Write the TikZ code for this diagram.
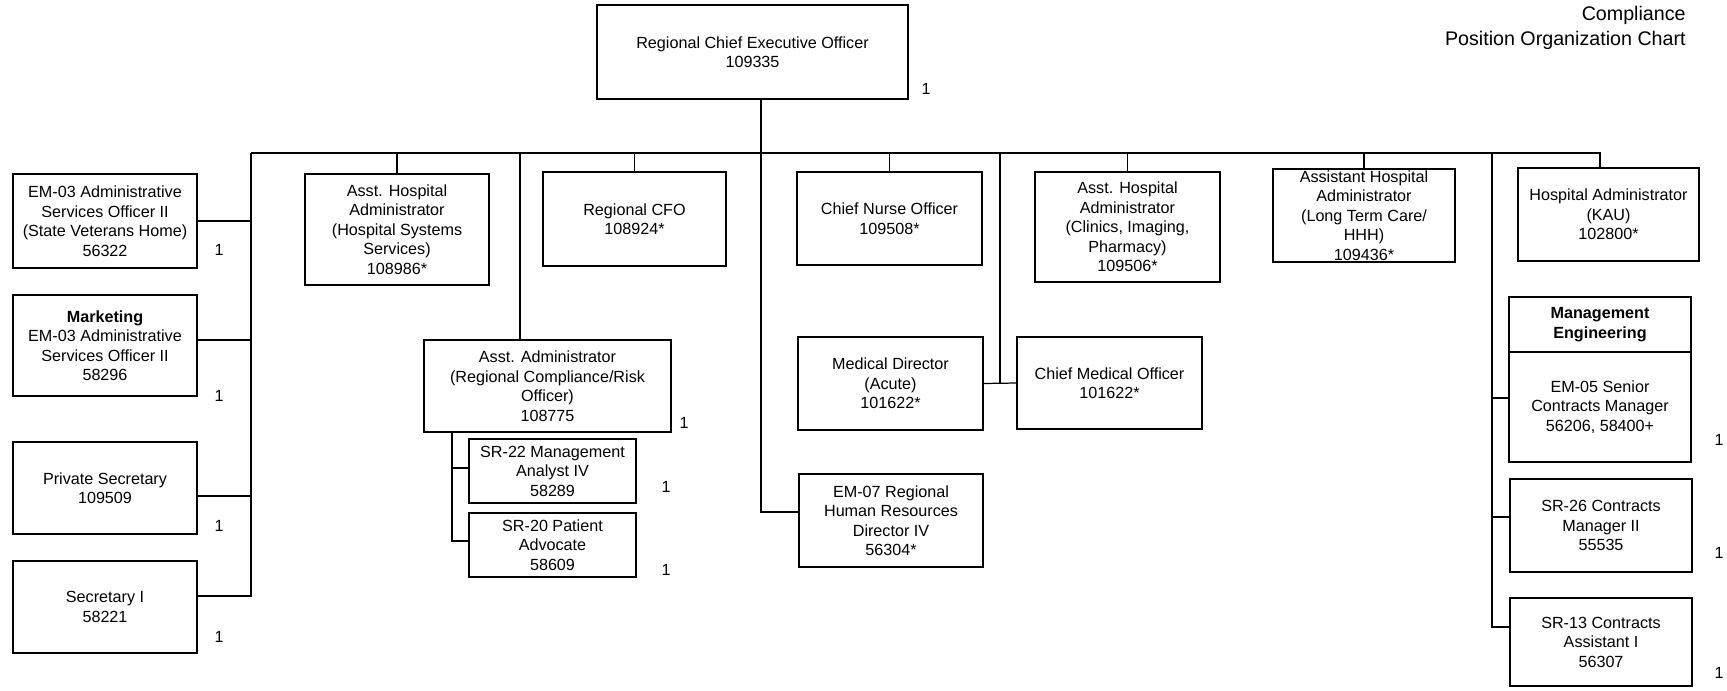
\documentclass[tikz,border=0pt]{standalone}
\usepackage{fontspec}
\setmainfont{Liberation Sans}
\usepackage{tikz}
\usetikzlibrary{positioning}

\begin{document}
\begin{tikzpicture}[
	x=0.02cm, y=-0.02cm,
	font=\fontsize{9.2}{11.1}\selectfont
]
\tikzset{
    posbox/.style = {rectangle, draw=black, line width=0.9pt, align=center, inner sep=0pt, outer sep=0pt, minimum width=3.68cm},
		headbox/.style = {posbox, font=\fontsize{9.2}{11.1}\selectfont\bfseries},
		countlabel/.style = {inner sep=0pt, draw=none},
		linkline/.style = {line width=0.7pt}
}
\useasboundingbox (0,0) rectangle (1727,690);

\node[align=right, anchor=east, inner sep=0pt, font=\fontsize{11.2}{14.2}\selectfont] (title) at (1686,27.5) {Compliance\\Position Organization Chart};

\node[posbox, minimum width=6.22cm, minimum height=1.88cm] (ceo) at (752.5,52) {Regional Chief Executive Officer\\109335};

\node[posbox, minimum height=1.88cm] (svh) at (105,221) {EM-03 Administrative\\Services Officer II\\(State Veterans Home)\\56322};
\node[posbox, minimum height=2.02cm] (mkt) at (105,345.5) {\textbf{Marketing}\\EM-03 Administrative\\Services Officer II\\58296};
\node[posbox, minimum height=1.84cm] (psec) at (105,488) {Private Secretary\\109509};
\node[posbox, minimum height=1.84cm] (sec1) at (105,607) {Secretary I\\58221};

\node[posbox, minimum height=2.22cm] (hss) at (397,229.5) {Asst. Hospital\\Administrator\\(Hospital Systems\\Services)\\108986*};
\node[posbox, minimum width=3.66cm, minimum height=1.88cm] (cfo) at (634.5,219) {Regional CFO\\108924*};
\node[posbox, minimum width=3.7cm, minimum height=1.86cm] (cno) at (889.5,218.5) {Chief Nurse Officer\\109508*};
\node[posbox, minimum width=3.7cm, minimum height=2.2cm] (clin) at (1127.5,227) {Asst. Hospital\\Administrator\\(Clinics, Imaging,\\Pharmacy)\\109506*};
\node[posbox, minimum width=3.64cm, minimum height=1.86cm] (ltc) at (1364,215.5) {Assistant Hospital\\Administrator\\(Long Term Care/\\HHH)\\109436*};
\node[posbox, minimum width=3.62cm, minimum height=1.86cm] (kau) at (1608.5,214.5) {Hospital Administrator\\(KAU)\\102800*};

\node[posbox, minimum width=4.94cm, minimum height=1.84cm] (aadm) at (547.5,386) {Asst. Administrator\\(Regional Compliance/Risk\\Officer)\\108775};
\node[posbox, minimum width=3.34cm, minimum height=1.28cm] (sr22) at (552.5,471) {SR-22 Management\\Analyst IV\\58289};
\node[posbox, minimum width=3.34cm, minimum height=1.28cm] (sr20) at (552.5,545) {SR-20 Patient\\Advocate\\58609};

\node[posbox, minimum width=3.7cm, minimum height=1.86cm] (md) at (890.5,383.5) {Medical Director\\(Acute)\\101622*};
\node[posbox, minimum width=3.7cm, minimum height=1.84cm] (cmo) at (1109.5,383) {Chief Medical Officer\\101622*};
\node[posbox, minimum height=1.86cm] (hr) at (891,520.5) {EM-07 Regional\\Human Resources\\Director IV\\56304*};

\node[headbox, minimum width=3.64cm, minimum height=1.1cm] (meng) at (1600,324.5) {Management\\Engineering};
\node[posbox, minimum width=3.64cm, minimum height=2.2cm, below=0pt of meng] (em05) {EM-05 Senior\\Contracts Manager\\56206, 58400+};
\node[posbox, minimum width=3.64cm, minimum height=1.86cm] (sr26) at (1601,525.5) {SR-26 Contracts\\Manager II\\55535};
\node[posbox, minimum width=3.64cm, minimum height=1.76cm] (sr13) at (1601,642) {SR-13 Contracts\\Assistant I\\56307};

\node[countlabel] (n-ceo) at (926,89) {1};
\node[countlabel] (n-svh) at (219,250) {1};
\node[countlabel] (n-mkt) at (219,396) {1};
\node[countlabel] (n-psec) at (219,526) {1};
\node[countlabel] (n-sec1) at (219,637) {1};
\node[countlabel] (n-aadm) at (684,423) {1};
\node[countlabel] (n-sr22) at (666,487) {1};
\node[countlabel] (n-sr20) at (666,570) {1};
\node[countlabel] (n-em05) at (1719,440) {1};
\node[countlabel] (n-sr26) at (1719,553) {1};
\node[countlabel] (n-sr13) at (1719,673) {1};

\coordinate (busL) at (251,153);
\coordinate (busR) at (1492,153);
\coordinate (busMed) at (1000,153);
\coordinate (aadmfoot) at ([xshift=0.56cm]aadm.south west);

\draw[linkline] (busL) -| ([xshift=-0.17cm]kau.north);
\draw[linkline] ([xshift=0.17cm]ceo.south) |- ([yshift=0.17cm]hr.west);

\draw[linkline] (busL) |- ([yshift=0.22cm]sec1.east);
\draw[linkline] (svh.east) -- (svh.east -| busL);
\draw[linkline] ([yshift=0.11cm]mkt.east) -- +(1.08cm,0);
\draw[linkline] ([yshift=-0.16cm]psec.east) -- +(1.08cm,0);

\draw[linkline] (hss.north) -- (hss.north |- busL);
\draw[linkline] (cfo.north) -- (cfo.north |- busL);
\draw[linkline] (cno.north) -- (cno.north |- busL);
\draw[linkline] (clin.north) -- (clin.north |- busL);
\draw[linkline] (ltc.north) -- (ltc.north |- busL);

\draw[linkline] ([xshift=-0.55cm]aadm.north) -- ([xshift=-0.55cm]aadm.north |- busL);
\draw[linkline] (aadmfoot) |- ([yshift=0.08cm]sr20.west);
\draw[linkline] ([yshift=0.06cm]sr22.west) -- +(-0.34cm,0);

\draw[linkline] (busMed) -- (busMed |- md.east);
\draw[linkline] (md.east) -- (cmo.west);

\draw[linkline] (busR) |- ([yshift=0.3cm]sr13.west);
\draw[linkline] ([yshift=0.18cm]em05.west) -- +(-0.34cm,0);
\draw[linkline] ([yshift=0.17cm]sr26.west) -- +(-0.36cm,0);
\end{tikzpicture}
\end{document}
